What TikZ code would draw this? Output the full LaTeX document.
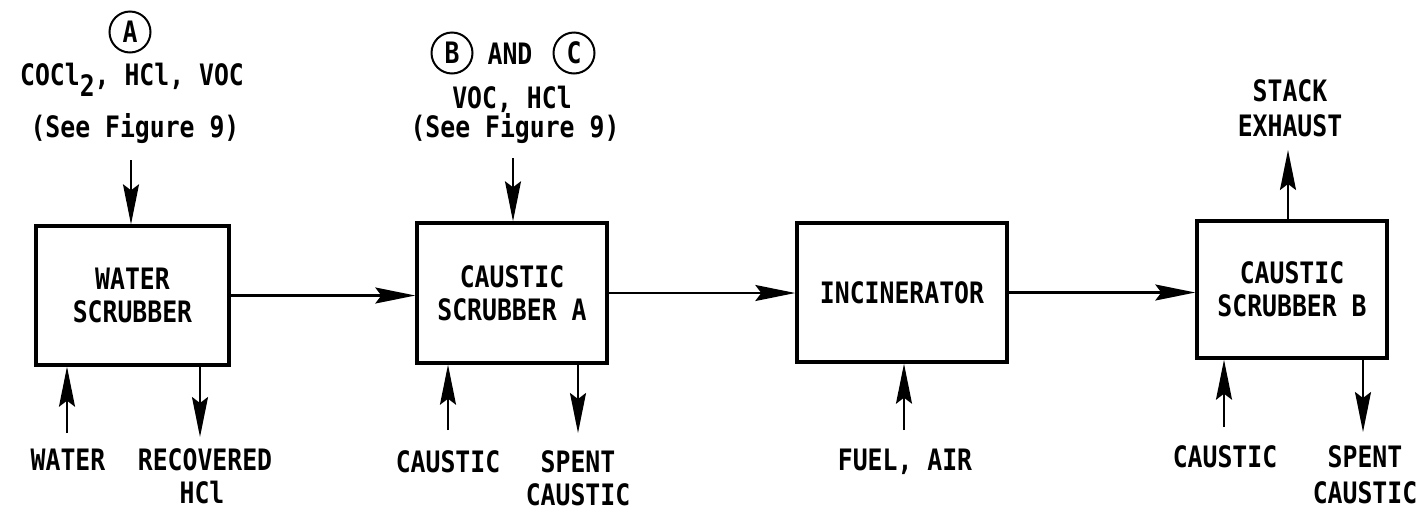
\documentclass[tikz,border=0pt]{standalone}
\usepackage{fontspec}
\newfontfamily\diagfont{DejaVu Sans Mono}[FakeStretch=0.84]
\usetikzlibrary{arrows.meta}
\newcommand{\lab}{\diagfont\bfseries\fontsize{29.5}{33}\selectfont}
\begin{document}
\begin{tikzpicture}[x=1pt,y=-1pt,
  box/.style={draw, line width=3.4pt, align=center, inner sep=0pt, font=\lab},
  flow/.style={line width=2.2pt, -{Stealth[length=40pt,width=16pt,inset=6pt]}},
  txt/.style={font=\lab, inner sep=0pt, anchor=base},
  circ/.style={draw, circle, line width=2pt, minimum size=41pt, inner sep=0pt, font=\lab}]
\useasboundingbox (0,0) rectangle (1427,515);
\fill[white] (0,0) rectangle (1427,515);

% process boxes
\node[box, minimum width=193pt, minimum height=139pt] (ws) at (132.5,295.5) {WATER\\SCRUBBER};
\node[box, minimum width=190pt, minimum height=140pt] (ca) at (512,293) {CAUSTIC\\SCRUBBER A};
\node[box, minimum width=210pt, minimum height=139pt] (inc) at (902,292.5) {INCINERATOR};
\node[box, minimum width=190pt, minimum height=137pt] (cb) at (1292,289.5) {CAUSTIC\\SCRUBBER B};

% main line
\draw[flow] (ws.east) -- (ws.east -| ca.west);
\draw[flow] (ca.east) -- (ca.east -| inc.west);
\draw[flow] (inc.east) -- (inc.east -| cb.west);

% free ends
\coordinate (wsin) at (131,160);
\coordinate (wsw) at (67,433);
\coordinate (wsr) at (200,437);
\coordinate (cain) at (513,158);
\coordinate (cac) at (448,430);
\coordinate (cas) at (578,433);
\coordinate (incf) at (904,430);
\coordinate (cbc) at (1224,427);
\coordinate (cbs) at (1363,432);
\coordinate (stk) at (1288,150);

\draw[flow] (wsin) -- (wsin |- ws.north);
\draw[flow] (wsw) -- (wsw |- ws.south);
\draw[flow] (wsr |- ws.south) -- (wsr);
\draw[flow] (cain) -- (cain |- ca.north);
\draw[flow] (cac) -- (cac |- ca.south);
\draw[flow] (cas |- ca.south) -- (cas);
\draw[flow] (incf) -- (incf |- inc.south);
\draw[flow] (cbc) -- (cbc |- cb.south);
\draw[flow] (cbs |- cb.south) -- (cbs);
\draw[flow] (stk |- cb.north) -- (stk);

% top labels
\node[circ] (cA) at (130,32) {A};
\node[txt] (la1) at (132,85) {COCl\raisebox{-0.4em}{2}, HCl, VOC};
\node[txt] (la2) at (135,137) {(See Figure 9)};
\node[circ] (cB) at (452,53) {B};
\node[txt] (and) at (510,64) {AND};
\node[circ] (cC) at (574,53) {C};
\node[txt] (lb1) at (512,108) {VOC, HCl};
\node[txt] (lb2) at (515,137) {(See Figure 9)};
\node[txt] (st1) at (1290,101) {STACK};
\node[txt] (st2) at (1290,136) {EXHAUST};

% bottom labels
\node[txt] (lw) at (68,470) {WATER};
\node[txt] (lr1) at (205,470) {RECOVERED};
\node[txt] (lr2) at (202,503) {HCl};
\node[txt] (lc1) at (448,472) {CAUSTIC};
\node[txt] (ls1) at (578,472) {SPENT};
\node[txt] (ls2) at (578,505) {CAUSTIC};
\node[txt] (lf) at (905,470) {FUEL, AIR};
\node[txt] (lc2) at (1225,467) {CAUSTIC};
\node[txt] (ls3) at (1365,467) {SPENT};
\node[txt] (ls4) at (1365,503) {CAUSTIC};
\end{tikzpicture}
\end{document}
